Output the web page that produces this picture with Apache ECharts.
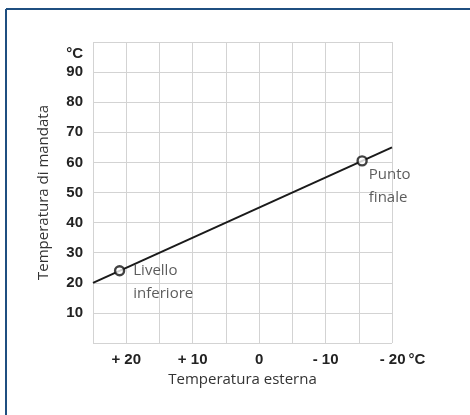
<!DOCTYPE html>
<html>
<head>
<meta charset="utf-8">
<script src="https://cdn.jsdelivr.net/npm/echarts@6/dist/echarts.min.js"></script>
<style>
html,body{margin:0;padding:0;background:#fff;}
#c{width:470px;height:415px;}
</style>
</head>
<body>
<div id="c"></div>
<script>
// Data
const lineOutdoor = [25, -20];
const lineFlow = [20, 65];
const pointOutdoor = [21, -15.5];
const pointFlow = [24, 60.5];
const pointNames = ['Livello\ninferiore', 'Punto\nfinale'];
const xTickValues = [20, 10, 0, -10, -20];
const xTickLabels = ['+ 20', '+ 10', '0', '- 10', '- 20'];
const yTickValues = [10, 20, 30, 40, 50, 60, 70, 80, 90];
const unitLabel = '°C';
const xName = 'Temperatura esterna';
const yName = 'Temperatura di mandata';

const lightFont = "'Open Sans', 'Noto Sans', sans-serif";
const boldFont = "'Liberation Sans', Arial, sans-serif";
const lightColor = '#333';

const chart = echarts.init(document.getElementById('c'), null, {renderer: 'canvas'});

const lineData = lineOutdoor.map((x, i) => [x, lineFlow[i]]);
const pointData = pointOutdoor.map((x, i) => ({
  value: [x, pointFlow[i]],
  label: i === 0
    ? {show: true, position: 'right', distance: 8, offset: [0, 11.5]}
    : {show: true, position: 'right', distance: 1, offset: [0, 25.5]}
}));

const option = {
  animation: false,
  backgroundColor: '#fff',
  grid: {left: 93, right: 78, top: 42, bottom: 72, containLabel: false},
  xAxis: {
    type: 'value',
    min: -20, max: 25, interval: 5, inverse: true,
    name: xName, nameLocation: 'middle', nameGap: 26,
    nameTextStyle: {fontFamily: lightFont, fontSize: 15, fontWeight: 'normal', color: lightColor},
    axisLine: {show: false},
    axisTick: {show: false},
    splitLine: {show: true, lineStyle: {color: '#d3d3d3', width: 1}},
    axisLabel: {
      margin: 9,
      fontFamily: boldFont, fontWeight: 'bold', fontSize: 15, color: '#222',
      formatter: function (v) {
        const idx = xTickValues.indexOf(v);
        if (idx < 0) return '';
        if (v === -20) return '{p|}' + xTickLabels[idx] + '{u|' + unitLabel + '}';
        return xTickLabels[idx];
      },
      rich: {
        p: {width: 21},
        u: {fontFamily: boldFont, fontWeight: 'bold', fontSize: 15, color: '#222', padding: [0, 0, 0, 3]}
      }
    }
  },
  yAxis: {
    type: 'value',
    min: 0, max: 100, interval: 10,
    name: yName, nameLocation: 'middle', nameGap: 42,
    nameTextStyle: {fontFamily: lightFont, fontSize: 15, fontWeight: 'normal', color: lightColor},
    axisLine: {show: false},
    axisTick: {show: false},
    splitLine: {show: true, lineStyle: {color: '#d3d3d3', width: 1}},
    axisLabel: {
      margin: 10,
      fontFamily: boldFont, fontWeight: 'bold', fontSize: 15, color: '#222',
      formatter: function (v) {
        if (v === 100) return '{u|' + unitLabel + '}';
        return yTickValues.indexOf(v) >= 0 ? String(v) : '';
      },
      rich: {
        u: {fontFamily: boldFont, fontWeight: 'bold', fontSize: 15, color: '#222', padding: [24, 0, 0, 0]}
      }
    }
  },
  series: [
    {
      type: 'line',
      data: lineData,
      showSymbol: false,
      symbol: 'none',
      lineStyle: {color: '#1a1a1a', width: 2},
      z: 2
    },
    {
      type: 'scatter',
      data: pointData,
      symbol: 'circle',
      symbolSize: 9,
      itemStyle: {color: '#ffffff', borderColor: '#111', borderWidth: 2.4},
      label: {
        formatter: function (p) { return pointNames[p.dataIndex]; },
        fontFamily: lightFont, fontSize: 15, fontWeight: 'normal', color: lightColor,
        lineHeight: 23, align: 'left'
      },
      z: 3
    }
  ],
  graphic: [
    {type: 'line', shape: {x1: 6, y1: 9, x2: 470, y2: 9}, style: {stroke: '#1f4f80', lineWidth: 2}, silent: true},
    {type: 'line', shape: {x1: 6, y1: 9, x2: 6, y2: 415}, style: {stroke: '#1f4f80', lineWidth: 2}, silent: true}
  ]
};

chart.setOption(option);
</script>
</body>
</html>
